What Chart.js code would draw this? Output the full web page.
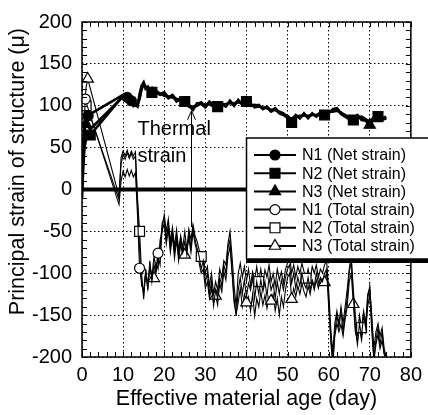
<!DOCTYPE html>
<html>
<head>
<meta charset="utf-8">
<script src="https://cdn.jsdelivr.net/npm/chart.js@4.4.1/dist/chart.umd.min.js"></script>
<style>
  body { margin: 0; background: #fff; }
  #wrap { width: 428px; height: 415px; }
</style>
</head>
<body>
<div id="wrap"><canvas id="strainChart" width="428" height="415"></canvas></div>
<script>
const seriesLabels = ['N1 (Net strain)', 'N2 (Net strain)', 'N3 (Net strain)',
                      'N1 (Total strain)', 'N2 (Total strain)', 'N3 (Total strain)'];

// net strain
const netDays = [0, 0.3, 0.6, 1, 1.5, 2,
  10, 10.5, 11, 11.5, 12, 12.5, 13, 13.5, 14, 14.5, 15, 15.5, 16, 16.5, 17, 17.5, 18,
  19, 20, 21, 22, 23, 24, 25, 26, 27, 28, 29, 30, 31, 32, 33, 34, 35, 36, 37, 38,
  39, 40, 41, 42, 43, 44, 45, 46, 47, 48, 49, 50, 51, 52, 53, 54, 55, 56, 57, 58,
  59, 60, 61, 62, 63, 64, 65, 66, 67, 68, 69, 70, 71, 72, 73, 74];
const netN1 = [0, 45, 70, 82, 88, 90,
  113, 108, 110, 104, 106, 100, 103, 100, 110, 122, 127, 121, 123, 118, 121, 115, 118,
  114, 116, 110, 113, 107, 109, 104, 101, 97, 102, 104, 99, 105, 101, 98, 103, 100, 105, 101, 106,
  102, 107, 101, 100, 101, 96, 99, 94, 97, 92, 90, 88, 83, 88, 86, 90, 86, 90, 88, 92,
  89, 92, 95, 97, 91, 89, 86, 84, 88, 85, 83, 81, 86, 88, 84, 86];
const netN2 = [-10, 25, 50, 60, 64, 65,
  112, 110, 107, 105, 103, 101, 100, 102, 108, 120, 125, 123, 120, 119, 116, 117, 115,
  115, 112, 111, 110, 108, 106, 105, 99, 99, 100, 103, 101, 102, 99, 99, 101, 102, 103, 103, 104,
  104, 105, 103, 98, 99, 98, 97, 95, 95, 93, 91, 85, 80, 87, 88, 88, 88, 89, 89, 90,
  89, 93, 93, 94, 92, 88, 86, 83, 86, 87, 84, 80, 84, 87, 85, 87];
const netN3 = [5, 55, 72, 78, 75, 72,
  111, 109, 112, 106, 104, 102, 101, 99, 114, 124, 128, 120, 121, 117, 119, 114, 116,
  113, 115, 109, 112, 105, 108, 103, 100, 95, 103, 102, 98, 104, 100, 97, 102, 99, 106, 100, 107,
  101, 106, 100, 101, 100, 97, 98, 93, 96, 91, 89, 86, 84, 89, 85, 91, 85, 91, 87, 91,
  88, 91, 96, 97, 90, 87, 84, 85, 89, 83, 82, 77, 85, 89, 83, 85];

// total strain
const totalDays = [0.1, 0.5, 0.8, 1.0, 1.4,
  9, 9.5, 10, 10.5, 11, 11.5, 12, 12.5, 13,
  13.5, 14, 14.5, 15, 15.5, 16, 16.5, 17, 17.5, 18, 18.5, 19, 19.5,
  20, 20.5, 21, 21.5, 22, 22.5, 23, 23.5, 24, 24.5, 25, 25.5, 26, 26.5, 27, 27.5,
  28, 28.5, 29, 29.5, 30, 30.5, 31, 31.5, 32, 32.5, 33, 33.5, 34, 34.5, 35, 35.5, 36, 36.5, 37, 37.5,
  38, 38.5, 39, 39.5, 40, 40.5, 41, 41.5, 42, 42.5, 43, 43.5, 44, 44.5, 45, 45.5, 46, 46.5, 47, 47.5,
  48, 48.5, 49, 49.5, 50,
  50.5, 51, 51.5, 52, 52.5, 53, 53.5, 54, 54.5, 55, 55.5, 56, 56.5, 57, 57.5, 58, 58.5, 59, 59.5, 60,
  60.5, 61, 61.5, 62, 62.5, 63, 63.5, 64, 64.5, 65, 65.5, 66, 66.5, 67, 67.5, 68, 68.5, 69, 69.5, 70,
  70.5, 71, 71.5, 72, 72.5, 73, 73.5, 74];
const totN1 = [0, 75, 108, 104, 98,
  -18, 10, 22, 15, 24, 16, 23, 15, 20,
  -30, -94, -110, -125, -100, -118, -90, -105, -80, -95, -76, -70, -40,
  -35, -60, -42, -70, -50, -75, -55, -80, -58, -75, -62, -78, -50, -70, -45, -60,
  -70, -80, -95, -85, -110, -100, -125, -110, -139, -120, -130, -105, -115, -90, -100, -70, -60, -95, -130, -151,
  -120, -105, -125, -108, -128, -112, -120, -105, -130, -110, -125, -108, -122, -110, -128, -105, -120, -112, -130, -110,
  -125, -108, -120, -105, -95,
  -90, -112, -100, -118, -105, -115, -100, -112, -118, -105, -120, -108, -115, -100, -112, -105, -110, -100, -95, -140,
  -175, -205, -170, -150, -165, -145, -170, -150, -130, -100, -85, -125, -165, -185, -160, -175, -150, -165, -130, -115,
  -160, -200, -180, -165, -185, -170, -195, -200];
const totN2 = [5, 70, 92, 100, 96,
  -12, 38, 46, 40, 47, 39, 46, 40, 45,
  -10, -50, -100, -131, -95, -120, -85, -110, -90, -100, -80, -90, -45,
  -30, -50, -35, -62, -45, -68, -48, -72, -55, -70, -50, -72, -48, -60, -42, -55,
  -62, -72, -80, -78, -100, -92, -115, -100, -125, -110, -120, -95, -105, -85, -90, -65, -50, -80, -115, -140,
  -100, -88, -105, -92, -110, -95, -115, -98, -108, -92, -110, -95, -112, -96, -105, -90, -110, -100, -115, -95,
  -108, -98, -112, -95, -88,
  -80, -100, -90, -105, -92, -100, -88, -98, -106, -95, -108, -92, -100, -90, -105, -95, -100, -90, -85, -120,
  -165, -195, -160, -145, -160, -140, -160, -140, -120, -95, -80, -120, -150, -175, -150, -165, -145, -160, -125, -118,
  -150, -190, -170, -160, -175, -165, -190, -200];
const totN3 = [10, 85, 110, 122, 132,
  -8, 30, 42, 36, 44, 37, 43, 36, 40,
  -20, -70, -115, -120, -98, -112, -95, -100, -106, -88, -95, -60, -50,
  -40, -65, -48, -75, -55, -82, -60, -85, -65, -80, -78, -72, -58, -75, -50, -65,
  -75, -88, -100, -95, -118, -110, -130, -118, -135, -127, -138, -112, -122, -98, -108, -80, -68, -100, -135, -148,
  -135, -118, -140, -125, -135, -128, -145, -125, -151, -130, -140, -122, -138, -126, -142, -128, -133, -125, -145, -130,
  -150, -128, -140, -120, -105,
  -100, -131, -118, -128, -115, -125, -112, -122, -128, -115, -125, -110, -120, -108, -118, -106, -112, -111, -98, -130,
  -180, -210, -175, -160, -170, -161, -175, -155, -140, -110, -100, -137, -170, -181, -165, -180, -160, -170, -140, -125,
  -170, -205, -185, -173, -190, -180, -197, -205];

// days where a marker is drawn on each curve
const netMarksN1 = [1.5, 11, 12];
const netMarksN2 = [2, 17, 25, 33, 40, 51, 59, 66, 72];
const netMarksN3 = [1, 70];
const totMarksN1 = [0.8, 14, 18.5];
const totMarksN2 = [1.0, 14, 29, 43, 54.5, 68];
const totMarksN3 = [1.4, 17.5, 25, 32.5, 40, 46, 51, 59, 66];

const noteLines = ['Thermal', 'strain'];
const noteDay = 13.5;
const noteLevels = [65, 33];
const arrowDay = 26.6;
const arrowFrom = -45;
const arrowTo = 94;

const FONT = '"Liberation Sans", Arial, sans-serif';
const markerSize = { circle: 5, rect: 7, triangle: 6.5 };

function makeSet(label, days, values, marks, style, net) {
    return {
        label: label,
        data: days.map((d, i) => ({ x: d, y: values[i] })),
        borderColor: '#000',
        borderWidth: net ? 2.6 : 1.1,
        pointStyle: style,
        pointRadius: ctx => (ctx.raw && marks.includes(ctx.raw.x)) ? markerSize[style] : 0,
        pointBackgroundColor: net ? '#000' : '#fff',
        pointBorderColor: '#000',
        pointBorderWidth: 1.2,
        tension: 0,
        fill: false
    };
}

const frame = {
    id: 'frame',
    afterDatasetsDraw(chart) {
        const { ctx, chartArea: a, scales: { x, y } } = chart;
        ctx.save();
        ctx.strokeStyle = '#000';

        // heavy zero line
        const y0 = y.getPixelForValue(0);
        ctx.lineWidth = 4;
        ctx.beginPath();
        ctx.moveTo(a.left, y0);
        ctx.lineTo(a.right, y0);
        ctx.stroke();

        // inward ticks on all four sides
        ctx.lineWidth = 1;
        ctx.beginPath();
        for (let d = 0; d <= 80; d += 2) {
            const px = Math.round(x.getPixelForValue(d)) + 0.5;
            ctx.moveTo(px, a.top); ctx.lineTo(px, a.top + 5);
            ctx.moveTo(px, a.bottom); ctx.lineTo(px, a.bottom - 5);
        }
        for (let v = -200; v <= 200; v += 10) {
            const py = Math.round(y.getPixelForValue(v)) + 0.5;
            ctx.moveTo(a.left, py); ctx.lineTo(a.left + 5, py);
            ctx.moveTo(a.right, py); ctx.lineTo(a.right - 5, py);
        }
        ctx.stroke();

        ctx.lineWidth = 1.5;
        ctx.strokeRect(a.left, a.top, a.right - a.left, a.bottom - a.top);

        // thermal strain note with arrow
        const ax = Math.round(x.getPixelForValue(arrowDay)) + 0.5;
        const top = y.getPixelForValue(arrowTo);
        ctx.lineWidth = 1;
        ctx.beginPath();
        ctx.moveTo(ax, y.getPixelForValue(arrowFrom));
        ctx.lineTo(ax, top);
        ctx.moveTo(ax - 4, top + 9);
        ctx.lineTo(ax, top);
        ctx.lineTo(ax + 4, top + 9);
        ctx.stroke();

        ctx.fillStyle = '#000';
        ctx.font = '20px ' + FONT;
        ctx.textBaseline = 'alphabetic';
        noteLines.forEach((t, i) => {
            ctx.fillText(t, x.getPixelForValue(noteDay), y.getPixelForValue(noteLevels[i]));
        });
        ctx.restore();
    },
    afterDraw(chart) {
        const ctx = chart.ctx;
        ctx.save();
        const lx = 246.5, ly = 138, lw = 200, lh = 121;
        ctx.fillStyle = '#fff';
        ctx.fillRect(lx, ly, lw, lh);
        ctx.strokeStyle = '#000';
        ctx.lineWidth = 1.5;
        ctx.strokeRect(lx, ly, lw, lh);
        ctx.fillStyle = '#000';
        ctx.fillRect(lx - 0.5, ly + lh, lw, 4);

        ctx.font = '16px ' + FONT;
        ctx.textBaseline = 'middle';
        chart.data.datasets.forEach((ds, i) => {
            const cy = 155 + i * 18.2;
            ctx.strokeStyle = '#000';
            ctx.lineWidth = 2;
            ctx.beginPath();
            ctx.moveTo(254, cy);
            ctx.lineTo(296, cy);
            ctx.stroke();
            ctx.fillStyle = ds.pointBackgroundColor;
            ctx.lineWidth = 1.2;
            Chart.helpers.drawPoint(ctx, {
                pointStyle: ds.pointStyle, rotation: 0,
                radius: markerSize[ds.pointStyle], borderWidth: 1.2
            }, 275, cy);
            ctx.fillStyle = '#000';
            ctx.fillText(ds.label, 302, cy + 1);
        });
        ctx.restore();
    }
};

new Chart(document.getElementById('strainChart'), {
    type: 'line',
    data: {
        datasets: [
            makeSet(seriesLabels[0], netDays, netN1, netMarksN1, 'circle', true),
            makeSet(seriesLabels[1], netDays, netN2, netMarksN2, 'rect', true),
            makeSet(seriesLabels[2], netDays, netN3, netMarksN3, 'triangle', true),
            makeSet(seriesLabels[3], totalDays, totN1, totMarksN1, 'circle', false),
            makeSet(seriesLabels[4], totalDays, totN2, totMarksN2, 'rect', false),
            makeSet(seriesLabels[5], totalDays, totN3, totMarksN3, 'triangle', false)
        ]
    },
    options: {
        responsive: false,
        animation: false,
        layout: { padding: { top: 20, right: 5, left: 0, bottom: 0 }, autoPadding: false },
        plugins: { legend: { display: false }, tooltip: { enabled: false } },
        scales: {
            x: {
                type: 'linear', min: 0, max: 80,
                ticks: { stepSize: 10, color: '#000', padding: 6, font: { family: FONT, size: 20 } },
                grid: { color: '#000', lineWidth: 1, drawTicks: false },
                border: { display: false, dash: [1.5, 2.5] },
                title: { display: true, text: 'Effective material age (day)', color: '#000',
                         padding: { top: 0, bottom: 3 }, font: { family: FONT, size: 21.5 } },
                afterFit: s => { s.height = 58; }
            },
            y: {
                min: -200, max: 200,
                ticks: { stepSize: 50, color: '#000', padding: 10, font: { family: FONT, size: 20 } },
                grid: { color: '#000', lineWidth: 1, drawTicks: false },
                border: { display: false, dash: [1.5, 2.5] },
                title: { display: true, text: 'Principal strain of structure (μ) ', align: 'end', color: '#000',
                         padding: { top: 5, bottom: 0 }, font: { family: FONT, size: 21.5 } },
                afterFit: s => { s.width = 82; }
            }
        }
    },
    plugins: [frame]
});
</script>
</body>
</html>
